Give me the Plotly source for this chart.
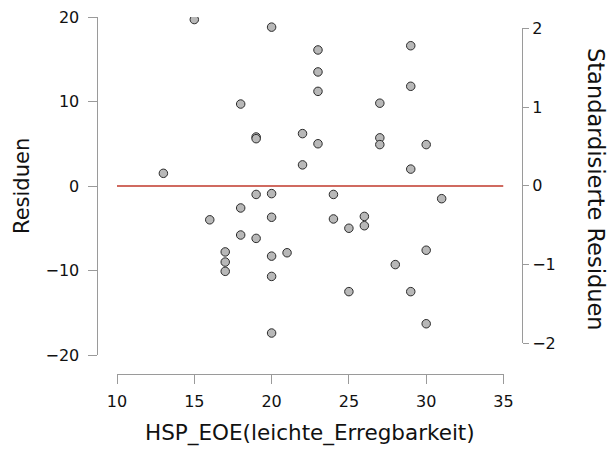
import plotly.graph_objects as go

# Predictor values (HSP_EOE) and raw residuals of the fitted model
eoe = [13, 15, 16, 17, 17, 17, 18, 18, 18, 19, 19, 19, 19,
       20, 20, 20, 20, 20, 20, 21, 22, 22, 23, 23, 23, 23,
       24, 24, 25, 25, 26, 26, 27, 27, 27, 28, 29, 29, 29, 29,
       30, 30, 30, 31]
residuals = [1.5, 19.7, -4.0, -7.8, -9.0, -10.1, 9.7, -2.6, -5.8, 5.8, 5.6, -1.0, -6.2,
             18.8, -0.9, -3.7, -8.3, -10.7, -17.4, -7.9, 6.2, 2.5, 16.1, 13.5, 11.2, 5.0,
             -1.0, -3.9, -5.0, -12.5, -3.6, -4.7, 9.8, 5.7, 4.9, -9.3, 16.6, 11.8, 2.0, -12.5,
             4.9, -7.6, -16.3, -1.5]
residual_sd = 9.33
std_residuals = [r / residual_sd for r in residuals]

x_ticks = [10, 15, 20, 25, 30, 35]
y_ticks = [-20, -10, 0, 10, 20]
std_ticks = [-2, -1, 0, 1, 2]

W, H = 609, 454
FONT = "DejaVu Sans"
AXIS_GREY = "#9a9a9a"


def px_x(p):
    return p / W


def px_y(p):
    return 1 - p / H


fig = go.Figure()

# zero reference line
fig.add_trace(go.Scatter(
    x=[x_ticks[0], x_ticks[-1]], y=[0, 0], mode="lines",
    line=dict(color="#c0392b", width=1.6),
    hoverinfo="skip", showlegend=False,
))

# residual points
fig.add_trace(go.Scatter(
    x=eoe, y=residuals, mode="markers",
    marker=dict(size=8.5, color="#b8b8b8", line=dict(color="#2b2b2b", width=1)),
    showlegend=False,
))

# standardised scale on the right (same points, invisible)
fig.add_trace(go.Scatter(
    x=eoe, y=std_residuals, mode="markers", yaxis="y2",
    marker=dict(size=8, opacity=0), hoverinfo="skip", showlegend=False,
))

tickfont = dict(family=FONT, size=16, color="#111111")


def title_note(text, x, y, size, angle=0):
    return dict(text=text, textangle=angle, x=px_x(x), y=px_y(y),
                xref="paper", yref="paper", xanchor="center", yanchor="middle",
                showarrow=False, font=dict(family=FONT, size=size, color="#111111"))


fig.update_layout(
    width=W, height=H,
    margin=dict(l=0, r=0, t=0, b=0, autoexpand=False),
    paper_bgcolor="white", plot_bgcolor="rgba(0,0,0,0)",
    font=dict(family=FONT, color="#111111"),
    xaxis=dict(
        domain=[px_x(117), px_x(503.5)], range=[10, 35], automargin=False,
        anchor="free", position=px_y(373.5),
        tickvals=x_ticks, ticks="outside", ticklen=9.5, tickcolor=AXIS_GREY,
        ticklabelstandoff=4,
        showline=True, linecolor=AXIS_GREY, linewidth=1,
        showgrid=False, zeroline=False, tickfont=tickfont,
    ),
    yaxis=dict(
        domain=[px_y(355), px_y(17)], range=[-20, 20], automargin=False,
        anchor="free", position=px_x(97),
        tickvals=y_ticks, ticks="outside", ticklen=9.5, tickcolor=AXIS_GREY,
        ticklabelstandoff=5,
        showline=True, linecolor=AXIS_GREY, linewidth=1,
        showgrid=False, zeroline=False, tickfont=tickfont,
    ),
    yaxis2=dict(
        domain=[px_y(343.3), px_y(28.3)], range=[-2, 2], automargin=False,
        anchor="free", position=px_x(522), side="right",
        tickvals=std_ticks, ticks="outside", ticklen=6, tickcolor=AXIS_GREY,
        showline=True, linecolor=AXIS_GREY, linewidth=1,
        showgrid=False, zeroline=False, tickfont=tickfont,
    ),
    annotations=[
        title_note("HSP_EOE(leichte_Erregbarkeit)", 310, 433, 21.5),
        title_note("Residuen", 22, 186, 21, angle=-90),
        title_note("Standardisierte Residuen", 596, 189, 22.5, angle=90),
    ],
)

fig.write_html("out.html")
